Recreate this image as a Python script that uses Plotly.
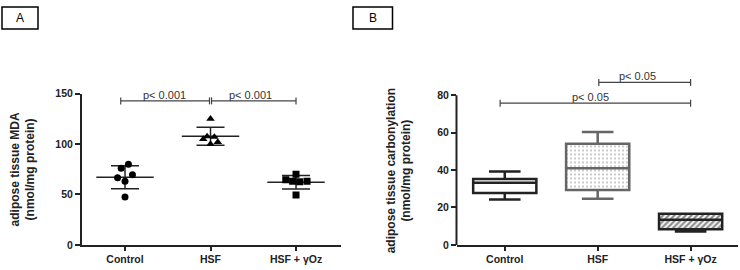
import numpy as np
import plotly.graph_objects as go

# ---------------- data ----------------
categories = ["Control", "HSF", "HSF + γOz"]

# Panel A: adipose tissue MDA (nmol/mg protein), individual animals
mda_control = [80, 76, 69.5, 66.5, 63, 47.5]
mda_hsf = [125, 107.5, 107, 105, 102, 100]
mda_hsf_oz = [70, 64.5, 63, 62.5, 63, 49.5]

# Panel B: adipose tissue carbonylation (nmol/mg protein), box summaries
carb_lower = [24.2, 24.7, 7.2]
carb_q1 = [27.7, 29.3, 8.3]
carb_median = [33.2, 41.0, 13.4]
carb_q3 = [35.2, 54.0, 16.7]
carb_upper = [39.2, 60.3, 16.7]

# significance comparisons: (group i, group j, label, level)
sig_a = [(0, 1, "p< 0.001", 142.8), (1, 2, "p< 0.001", 142.8)]
sig_b = [(0, 2, "p< 0.05", 75.7), (1, 2, "p< 0.05", 86.8)]

# ---------------- figure ----------------
W, H = 740, 270
FONT = "Liberation Sans, Arial, sans-serif"
AX = "#222222"

fig = go.Figure()

# ---- Panel A ----
groups_a = [mda_control, mda_hsf, mda_hsf_oz]
symbols = ["circle", "triangle-up", "square"]
jitter = [
    [0.04, -0.045, 0.087, -0.087, 0.0, 0.0],
    [0.0, -0.04, 0.045, -0.085, 0.085, 0.0],
    [0.0, -0.12, -0.04, 0.043, 0.129, 0.0],
]
for i, vals in enumerate(groups_a):
    v = np.array(vals, dtype=float)
    m = v.mean()
    sd = v.std(ddof=1)
    fig.add_trace(go.Scatter(
        x=[i], y=[m], mode="markers", xaxis="x", yaxis="y",
        marker=dict(symbol="line-ew", size=41, color=AX,
                    line=dict(color=AX, width=1.5)),
        error_y=dict(type="data", array=[sd], width=14, thickness=1.5, color=AX),
        showlegend=False, hoverinfo="skip"))
    fig.add_trace(go.Scatter(
        x=[i + d for d in jitter[i]], y=vals, mode="markers",
        xaxis="x", yaxis="y",
        marker=dict(symbol=symbols[i], size=7 if i != 1 else 7.5, color="black"),
        showlegend=False))

# ---- Panel B ----
heights = [q3 - q1 for q1, q3 in zip(carb_q1, carb_q3)]
fig.add_trace(go.Bar(
    x=[0, 1, 2], y=heights, base=carb_q1, width=0.68,
    xaxis="x2", yaxis="y2",
    marker=dict(color="white", line=dict(width=0),
                pattern=dict(shape=["", ".", "/"],
                             fgcolor=["white", "#777777", "#1a1a1a"],
                             bgcolor="white", size=[4, 4, 4],
                             solidity=[0.2, 0.2, 0.55])),
    showlegend=False, hoverinfo="skip"))
box_colors = [AX, "#666666", AX]
for i in range(3):
    fig.add_trace(go.Box(
        x=[i], q1=[carb_q1[i]], median=[carb_median[i]], q3=[carb_q3[i]],
        lowerfence=[carb_lower[i]], upperfence=[carb_upper[i]],
        xaxis="x2", yaxis="y2", width=0.68, whiskerwidth=0.5,
        fillcolor="rgba(0,0,0,0)", line=dict(color=box_colors[i], width=2.5),
        boxpoints=False, showlegend=False))

# ---- significance brackets ----
def add_brackets(sigs, xa, ya, xshift):
    for (i, j, lab, lvl) in sigs:
        fig.add_trace(go.Scatter(
            x=[i + 0.012 if i > 0 else i - 0.05, j - 0.012 if j < 2 else j],
            y=[lvl, lvl], mode="lines+markers", xaxis=xa, yaxis=ya,
            line=dict(color="#444444", width=1.2),
            marker=dict(symbol="line-ns", size=5,
                        line=dict(color="#444444", width=1.2)),
            cliponaxis=False, showlegend=False, hoverinfo="skip"))
        fig.add_annotation(
            x=(i + j) / 2, y=lvl, xref=xa, yref=ya, text=lab, showarrow=False,
            xanchor="center", yanchor="bottom", yshift=-2, xshift=xshift,
            font=dict(family=FONT, size=11, color="#333333"))

add_brackets(sig_a, "x", "y", -3)
add_brackets(sig_b, "x2", "y2", -7)

# ---- axes ----
def px_x(p):
    return p / W

def px_y(p):
    return 1 - p / H

tickfont = dict(family=FONT, size=10.5, color=AX, weight="bold")
common_x = dict(showline=True, linewidth=2, linecolor=AX, ticks="outside",
                ticklen=4, tickwidth=1.5, tickcolor=AX, showgrid=False,
                zeroline=False, tickvals=[0, 1, 2], ticktext=categories,
                tickfont=tickfont, fixedrange=True)
common_y = dict(linewidth=2, linecolor=AX, ticks="outside",
                ticklen=5, tickwidth=1.5, tickcolor=AX, showgrid=False,
                zeroline=False, tickfont=tickfont, fixedrange=True)

B_SCALE = (250 - 93.3) / 80.0   # px per unit in panel B
B_TOP = 90                      # headroom for brackets above the 80 tick

fig.update_layout(
    width=W, height=H, margin=dict(l=0, r=0, t=0, b=0),
    paper_bgcolor="white", plot_bgcolor="white",
    boxmode="overlay", barmode="overlay",
    xaxis=dict(domain=[px_x(82), px_x(341)], range=[-0.503, 2.526],
               anchor="y", **common_x),
    yaxis=dict(domain=[px_y(250), px_y(91.7)], range=[0, 150],
               tickvals=[0, 50, 100, 150], anchor="x", showline=True,
               **common_y),
    xaxis2=dict(domain=[px_x(457), px_x(738)], range=[-0.514, 2.51],
                anchor="y2", **common_x),
    yaxis2=dict(domain=[px_y(250), px_y(250 - B_TOP * B_SCALE)],
                range=[0, B_TOP], tickvals=[0, 20, 40, 60, 80], anchor="x2",
                showline=False, **common_y),
)

# panel B y-axis line stops at the top tick (80)
fig.add_shape(type="line", xref="paper", yref="y2",
              x0=px_x(457) - 0.5 / W, x1=px_x(457) - 0.5 / W, y0=0, y1=80,
              line=dict(color=AX, width=2))

# y-axis titles
fig.add_annotation(
    x=px_x(23), y=px_y(171), xref="paper", yref="paper", showarrow=False,
    text="adipose tissue MDA<br>(nmol/mg protein)", textangle=-90,
    xanchor="center", yanchor="middle",
    font=dict(family=FONT, size=12, color=AX, weight="bold"))
fig.add_annotation(
    x=px_x(399), y=px_y(173), xref="paper", yref="paper", showarrow=False,
    text="adipose tissue carbonylation<br>(nmol/mg protein)", textangle=-90,
    xanchor="center", yanchor="middle",
    font=dict(family=FONT, size=12, color=AX, weight="bold"))

# panel letter boxes
for lab, x0, x1 in [("A", 2, 38), ("B", 353, 392.5)]:
    fig.add_shape(type="rect", xref="paper", yref="paper",
                  x0=px_x(x0), x1=px_x(x1), y0=px_y(24), y1=px_y(1),
                  line=dict(color="black", width=1.5), fillcolor="white")
    fig.add_annotation(x=px_x((x0 + x1) / 2), y=px_y(12.5), xref="paper",
                       yref="paper", text=lab, showarrow=False,
                       xanchor="center", yanchor="middle",
                       font=dict(family=FONT, size=12, color="black"))

fig.write_html("out.html", config={"displayModeBar": False},
               post_script="document.body.style.margin='0px';")
